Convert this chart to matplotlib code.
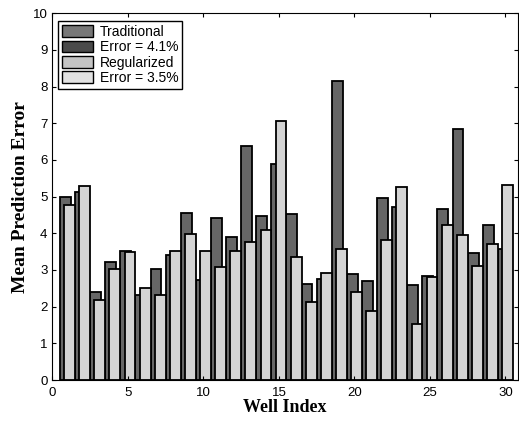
import numpy as np
import matplotlib
matplotlib.use("Agg")
import matplotlib.pyplot as plt
from matplotlib.patches import Patch

# values
wells = np.arange(1, 31)
traditional = [5.0, 5.12, 2.4, 3.22, 3.52, 2.32, 3.02, 3.42, 4.56, 2.72,
               4.42, 3.9, 6.37, 4.48, 5.9, 4.54, 2.62, 2.75, 8.16, 2.88,
               2.69, 4.95, 4.72, 2.6, 2.84, 4.66, 6.84, 3.45, 4.23, 3.57]
regularized = [4.77, 5.3, 2.19, 3.03, 3.5, 2.51, 2.33, 3.52, 3.97, 3.51,
               3.09, 3.51, 3.76, 4.08, 7.06, 3.36, 2.14, 2.91, 3.58, 2.4,
               1.89, 3.82, 5.25, 1.53, 2.8, 4.23, 3.96, 3.1, 3.71, 5.32]
legend_labels = ["Traditional", "Error = 4.1%", "Regularized", "Error = 3.5%"]

dark = "#666666"
light = "#d4d4d4"

fig = plt.figure(figsize=(5.19, 4.22), dpi=100)
ax = fig.add_axes([0.101, 0.0995, 0.897, 0.869])

w = 0.72
ax.bar(wells - 0.14, traditional, width=w, color=dark, edgecolor="black", linewidth=1.3)
ax.bar(wells + 0.14, regularized, width=w, color=light, edgecolor="black", linewidth=1.3)

ax.set_xlim(0, 30.83)
ax.set_ylim(0, 10)
ax.set_xticks(range(0, 31, 5))
ax.set_yticks(range(0, 11))
ax.tick_params(direction="in", top=True, right=True, length=3, labelsize=9.5)
ax.tick_params(axis="x", pad=5)
for lbl in ax.get_xticklabels() + ax.get_yticklabels():
    lbl.set_family("Liberation Sans")

ax.set_xlabel("Well Index", family="Liberation Serif", fontweight="bold", fontsize=13, labelpad=0)
ax.set_ylabel("Mean Prediction Error", family="Liberation Serif", fontweight="bold", fontsize=14, labelpad=3)

handles = [Patch(facecolor="#777777", edgecolor="black"),
           Patch(facecolor="#4a4a4a", edgecolor="black"),
           Patch(facecolor="#c4c4c4", edgecolor="black"),
           Patch(facecolor="#e2e2e2", edgecolor="black")]
leg = ax.legend(handles, legend_labels, loc="upper left", bbox_to_anchor=(0.012, 0.98),
                fancybox=False, edgecolor="black", framealpha=1, borderaxespad=0.0,
                handlelength=2.2, handleheight=0.9, labelspacing=0.1, handletextpad=0.5,
                borderpad=0.3, prop={"family": "Liberation Sans", "size": 10})
leg.get_frame().set_linewidth(1.0)

fig.savefig("out.png", dpi=100)
